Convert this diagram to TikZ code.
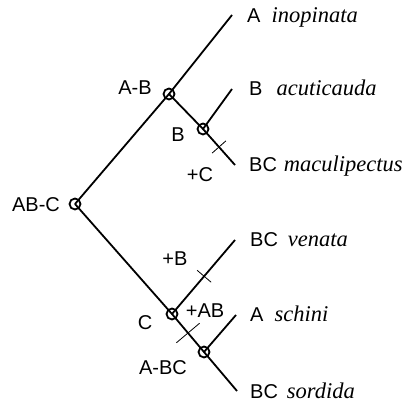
\documentclass[tikz,border=0pt]{standalone}
\usepackage{fontspec}
\setmainfont{Liberation Serif}
\setsansfont{Liberation Sans}
\newcommand{\codef}{\fontsize{20}{20}\selectfont\sffamily}
\newcommand{\spf}{\fontsize{22.5}{22.5}\selectfont\rmfamily\itshape}
\begin{document}
\begin{tikzpicture}[x=1pt,y=-1pt,
  branch/.style={line width=1.8pt},
  junction/.style={circle,draw,line width=1.8pt,minimum size=11pt,inner sep=0pt},
  tickmark/.style={inner sep=0pt,minimum width=0pt,minimum height=#1},
  tickline/.style={line width=0.8pt},
  lab/.style={font=\codef,inner sep=0pt},
  tiplab/.style={anchor=base west,inner sep=0pt}]
\useasboundingbox (0,0) rectangle (415,403);
% junctions
\node[junction] (root) at (75,204) {};
\node[junction] (nAB) at (169,94) {};
\node[junction] (nB) at (203,129) {};
\node[junction] (nC) at (172,314) {};
\node[junction] (nD) at (204,352) {};
% tips
\coordinate (tA) at (232,15);
\coordinate (tB) at (232,89);
\coordinate (tM) at (235,165);
\coordinate (tV) at (235,240);
\coordinate (tS) at (236,315);
\coordinate (tSo) at (237,391);
% branches
\draw[branch] (root.center) -- (nAB.center) -- (tA);
\draw[branch] (nAB.center) -- (nB.center) -- (tM);
\draw[branch] (nB.center) -- (tB);
\draw[branch] (root.center) -- (nC.center) -- (nD.center) -- (tSo);
\draw[branch] (nC.center) -- (tV);
\draw[branch] (nD.center) -- (tS);
% ticks
\path (nB.center) -- (tM) node[pos=0.5,sloped,tickmark=18pt] (k1) {};
\draw[tickline] (k1.north) -- (k1.south);
\path (nC.center) -- (tV) node[pos=0.51,sloped,tickmark=18pt] (k2) {};
\draw[tickline] (k2.north) -- (k2.south);
\path (nC.center) -- (nD.center) node[pos=0.5,sloped,tickmark=30pt] (k3) {};
\draw[tickline] (k3.north) -- (k3.south);
% internal labels
\node[lab] (lAB) at (135,88) {A-B};
\node[lab] (lB) at (178,135) {B};
\node[lab] (lpC) at (200,175) {+C};
\node[lab] (lABC) at (36,205) {AB-C};
\node[lab] (lpB) at (175,259) {+B};
\node[lab] (lC) at (145,323) {C};
\node[lab] (lpAB) at (205,311) {+AB};
\node[lab] (lABC2) at (163,368) {A-BC};
% tip labels
\node[tiplab] (sA) at (247,23) {{\codef A}\hspace{11pt}{\spf inopinata}};
\node[tiplab] (sB) at (249,96) {{\codef B}\hspace{14pt}{\spf acuticauda}};
\node[tiplab] (sM) at (249,172) {{\codef BC}\hspace{7pt}{\spf maculipectus}};
\node[tiplab] (sV) at (250,247) {{\codef BC}\hspace{10pt}{\spf venata}};
\node[tiplab] (sS) at (250,322) {{\codef A}\hspace{11pt}{\spf schini}};
\node[tiplab] (sSo) at (250,398) {{\codef BC}\hspace{9pt}{\spf sordida}};
\end{tikzpicture}
\end{document}
